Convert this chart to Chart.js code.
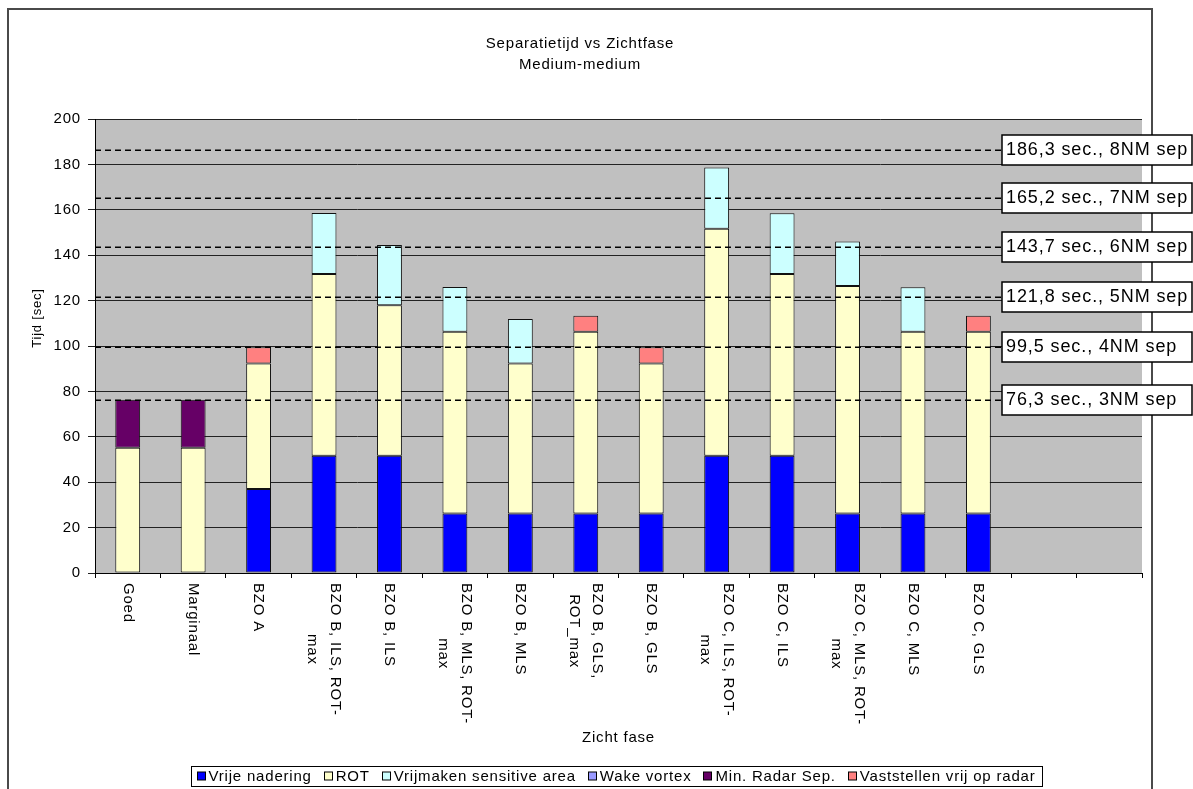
<!DOCTYPE html>
<html>
<head>
<meta charset="utf-8">
<title>Separatietijd vs Zichtfase</title>
<script src="https://cdn.jsdelivr.net/npm/chart.js@4/dist/chart.umd.min.js"></script>
<style>
  html, body { margin: 0; padding: 0; background: #fff; overflow: hidden; }
  canvas { display: block; }
</style>
</head>
<body>
<canvas id="chart" width="1193" height="789"></canvas>
<script>
// Visibility phases (multi-line labels are given as arrays)
const categories = [
  'Goed',
  'Marginaal',
  'BZO A',
  ['BZO B, ILS, ROT-', 'max'],
  'BZO B, ILS',
  ['BZO B, MLS, ROT-', 'max'],
  'BZO B, MLS',
  ['BZO B, GLS,', 'ROT_max'],
  'BZO B, GLS',
  ['BZO C, ILS, ROT-', 'max'],
  'BZO C, ILS',
  ['BZO C, MLS, ROT-', 'max'],
  'BZO C, MLS',
  'BZO C, GLS',
  '',
  ''
];

// Time components in seconds, stacked per phase
const vrijeNadering   = [null, null, 37.0, 51.7, 51.7, 26.2, 26.2, 26.2, 26.2, 51.7, 51.7, 26.2, 26.2, 26.2, null, null];
const rot             = [55.2, 55.2, 55.3, 80.0, 66.2, 80.1, 66.1, 80.1, 66.1, 99.9, 80.0, 100.2, 80.1, 80.1, null, null];
const vrijmakenArea   = [null, null, null, 26.9, 26.6, 19.7, 19.6, null, null, 27.0, 26.8, 19.6, 19.6, null, null, null];
const wakeVortex      = [null, null, null, null, null, null, null, null, null, null, null, null, null, null, null, null];
const minRadarSep     = [21.1, 21.1, null, null, null, null, null, null, null, null, null, null, null, null, null, null];
const vaststellenVrij = [null, null, 7.2, null, null, null, null, 7.0, 7.1, null, null, null, null, 7.0, null, null];

// Separation reference times
const refValues = [186.3, 165.2, 143.7, 121.8, 99.5, 76.3];
const refLabels = [
  '186,3 sec., 8NM sep',
  '165,2 sec., 7NM sep',
  '143,7 sec., 6NM sep',
  '121,8 sec., 5NM sep',
  '99,5 sec., 4NM sep',
  '76,3 sec., 3NM sep'
];

const yTicks = { min: 0, max: 200, step: 20 };

const FONT = '"Liberation Sans", Arial, sans-serif';
Chart.defaults.font.family = FONT;
Chart.defaults.color = '#000';

const barSeries = [
  { label: 'Vrije nadering', data: vrijeNadering, color: '#0000FF' },
  { label: 'ROT', data: rot, color: '#FFFFCC' },
  { label: 'Vrijmaken sensitive area', data: vrijmakenArea, color: '#CCFFFF' },
  { label: 'Wake vortex', data: wakeVortex, color: '#9999FF' },
  { label: 'Min. Radar Sep.', data: minRadarSep, color: '#660066' },
  { label: 'Vaststellen vrij op radar', data: vaststellenVrij, color: '#FF8080' }
];

const datasets = barSeries.map(s => ({
  label: s.label,
  data: s.data,
  backgroundColor: s.color,
  borderColor: '#111',
  borderWidth: 1,
  borderSkipped: false
}));

const chartDecor = {
  id: 'chartDecor',
  beforeDraw(chart) {
    const ctx = chart.ctx;
    const a = chart.chartArea;
    ctx.save();
    ctx.fillStyle = '#fff';
    ctx.fillRect(0, 0, chart.width, chart.height);
    // outer frame
    ctx.strokeStyle = '#4a4a4a';
    ctx.lineWidth = 2;
    ctx.strokeRect(8, 9, 1144, 800);
    // plot area
    ctx.fillStyle = '#C0C0C0';
    ctx.fillRect(a.left, a.top, a.right - a.left, a.bottom - a.top);
    ctx.restore();
    ctx.letterSpacing = '0.8px';
  },
  afterDatasetsDraw(chart) {
    // dashed separation lines across the plot area
    const ctx = chart.ctx;
    const a = chart.chartArea;
    const ys = chart.scales.y;
    ctx.save();
    ctx.strokeStyle = '#000';
    ctx.lineWidth = 1.5;
    ctx.setLineDash([6, 4]);
    refValues.forEach(v => {
      const y = Math.round(ys.getPixelForValue(v)) + 0.25;
      ctx.beginPath();
      ctx.moveTo(a.left, y);
      ctx.lineTo(a.right, y);
      ctx.stroke();
    });
    ctx.restore();
  },
  afterDraw(chart) {
    const ctx = chart.ctx;
    const a = chart.chartArea;
    const xs = chart.scales.x;
    const ys = chart.scales.y;
    ctx.save();
    ctx.letterSpacing = '0.8px';
    ctx.fillStyle = '#000';

    // title
    ctx.font = '15px ' + FONT;
    ctx.textAlign = 'center';
    ctx.textBaseline = 'middle';
    ctx.fillText('Separatietijd vs Zichtfase', 580, 44);
    ctx.fillText('Medium-medium', 580, 65);

    // axis titles
    ctx.fillText('Zicht fase', (a.left + a.right) / 2, 738);
    ctx.save();
    ctx.font = '13px ' + FONT;
    ctx.translate(37, 318);
    ctx.rotate(-Math.PI / 2);
    ctx.fillText('Tijd [sec]', 0, 0);
    ctx.restore();

    // category labels, rotated to read downwards
    ctx.font = '15px ' + FONT;
    ctx.textAlign = 'left';
    categories.forEach((lab, i) => {
      const lines = Array.isArray(lab) ? lab : [lab];
      if (!lines.join('')) return;
      const cx = xs.getPixelForValue(i);
      const widths = lines.map(l => ctx.measureText(l).width);
      const block = Math.max(...widths);
      const n = lines.length;
      lines.forEach((l, k) => {
        ctx.save();
        ctx.translate(cx + ((n - 1) / 2 - k) * 23, 583 + (block - widths[k]) / 2);
        ctx.rotate(Math.PI / 2);
        ctx.fillText(l, 0, 0);
        ctx.restore();
      });
    });

    // reference time labels
    ctx.font = '18px ' + FONT;
    ctx.letterSpacing = '0.9px';
    ctx.textBaseline = 'middle';
    refValues.forEach((v, i) => {
      const y = Math.round(ys.getPixelForValue(v));
      ctx.fillStyle = '#fff';
      ctx.fillRect(1002, y - 15, 190, 30);
      ctx.strokeStyle = '#000';
      ctx.lineWidth = 1.5;
      ctx.strokeRect(1002, y - 15, 190, 30);
      ctx.fillStyle = '#000';
      ctx.fillText(refLabels[i], 1006, y);
    });

    // legend
    ctx.font = '15px ' + FONT;
    ctx.letterSpacing = '0.8px';
    const box = 8, gapText = 4, gapItem = 12, pad = 6;
    const widths = barSeries.map(s => box + gapText + ctx.measureText(s.label).width);
    const total = widths.reduce((p, w) => p + w, 0) + gapItem * (widths.length - 1) + pad * 2;
    let x = 616 - total / 2;
    const top = 766, h = 20, cy = top + h / 2;
    ctx.fillStyle = '#fff';
    ctx.fillRect(x, top, total, h);
    ctx.strokeStyle = '#000';
    ctx.lineWidth = 1;
    ctx.strokeRect(Math.round(x) + 0.5, top + 0.5, Math.round(total), h);
    x += pad;
    barSeries.forEach((s, i) => {
      const bx = Math.round(x) + 0.5;
      ctx.fillStyle = s.color;
      ctx.fillRect(bx, cy - 4, box, box);
      ctx.strokeStyle = '#000';
      ctx.strokeRect(bx, cy - 4, box, box);
      ctx.fillStyle = '#000';
      ctx.fillText(s.label, x + box + gapText, cy + 1);
      x += widths[i] + gapItem;
    });
    ctx.restore();
  }
};

new Chart(document.getElementById('chart'), {
  type: 'bar',
  data: { labels: categories, datasets },
  options: {
    responsive: false,
    devicePixelRatio: 1,
    animation: false,
    categoryPercentage: 1.0,
    barPercentage: 0.38,
    layout: { padding: { top: 119, right: 51, bottom: 0, left: 0 } },
    plugins: {
      legend: { display: false },
      title: { display: false },
      tooltip: { enabled: false }
    },
    scales: {
      x: {
        stacked: true,
        offset: true,
        grid: {
          offset: true,
          drawOnChartArea: false,
          drawTicks: true,
          tickLength: 5,
          color: '#000'
        },
        border: { display: true, color: '#000', width: 1 },
        ticks: { display: false },
        afterFit(scale) { scale.height = 216; }
      },
      y: {
        stacked: true,
        min: yTicks.min,
        max: yTicks.max,
        ticks: {
          stepSize: yTicks.step,
          padding: 7,
          font: { size: 15 },
          color: '#000'
        },
        grid: {
          color: '#222',
          lineWidth: 1,
          tickLength: 7
        },
        border: { display: true, color: '#000', width: 1 },
        afterFit(scale) { scale.width = 95; }
      }
    }
  },
  plugins: [chartDecor]
});
</script>
</body>
</html>
